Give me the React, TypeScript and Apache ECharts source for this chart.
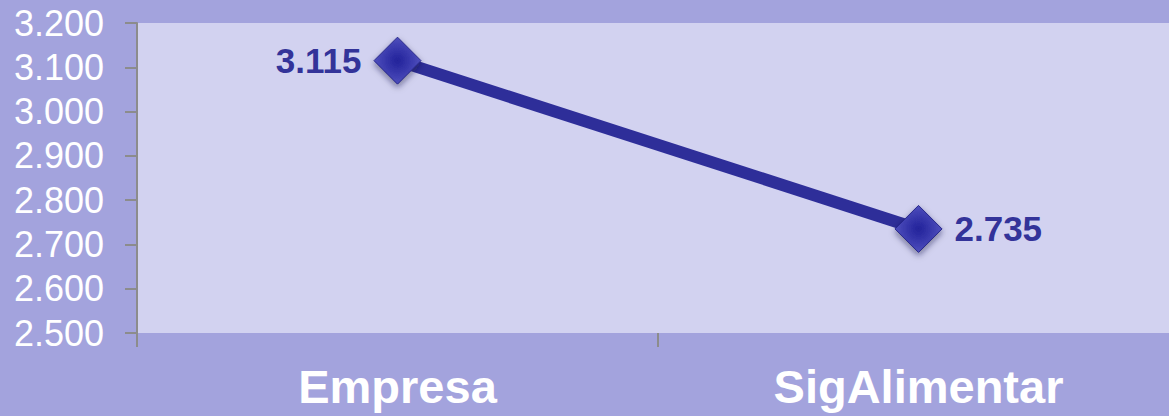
import React, { useEffect, useRef } from "react";
import * as echarts from "echarts";

const categories = ["Empresa", "SigAlimentar"];
const values = [3.115, 2.735];
const yMin = 2.5;
const yMax = 3.2;
const yStep = 0.1;

export default function App() {
  const ref = useRef<HTMLDivElement>(null);
  useEffect(() => {
    if (!ref.current) return;
    const chart = echarts.init(ref.current, undefined, { renderer: "svg" });
    chart.setOption({
      animation: false,
      backgroundColor: "#a3a3dd",
      textStyle: { fontFamily: "Liberation Sans, Arial, sans-serif" },
      grid: {
        left: 137,
        top: 23,
        right: 0,
        bottom: 83,
        show: true,
        backgroundColor: "#d2d2f0",
        borderWidth: 0,
        containLabel: false,
      },
      xAxis: {
        type: "category",
        data: categories,
        boundaryGap: true,
        axisLine: {
          lineStyle: {
            color: "#8c8c8c",
            width: 2,
            shadowColor: "rgba(40,40,100,0.6)",
            shadowBlur: 6,
            shadowOffsetY: 4,
          },
        },
        axisTick: { show: true, length: 14, lineStyle: { color: "#8c8c8c", width: 2 } },
        axisLabel: {
          color: "#ffffff",
          fontSize: 47,
          fontWeight: "bold",
          margin: 30,
          fontFamily: "Liberation Sans, Arial, sans-serif",
        },
      },
      yAxis: {
        type: "value",
        min: yMin,
        max: yMax,
        interval: yStep,
        axisLine: { show: true, lineStyle: { color: "#8c8c8c", width: 2 } },
        axisTick: { show: true, length: 12, lineStyle: { color: "#8c8c8c", width: 2 } },
        splitLine: { show: false },
        axisLabel: {
          color: "#ffffff",
          fontSize: 36,
          margin: 33,
          fontFamily: "Liberation Sans, Arial, sans-serif",
          formatter: (v: number) => v.toFixed(3),
        },
      },
      series: [
        {
          type: "line",
          data: [
            { value: values[0], label: { position: "left" } },
            { value: values[1], label: { position: "right" } },
          ],
          symbol: "diamond",
          symbolSize: 47,
          lineStyle: { color: "#2e2e99", width: 12 },
          itemStyle: {
            color: {
              type: "radial",
              x: 0.5,
              y: 0.5,
              r: 0.6,
              colorStops: [
                { offset: 0, color: "#24249a" },
                { offset: 0.25, color: "#2e2ea4" },
                { offset: 1, color: "#5858c4" },
              ],
            },
            borderColor: "#26268a",
            borderWidth: 1,
            shadowColor: "rgba(20,20,60,0.5)",
            shadowBlur: 6,
            shadowOffsetY: 3,
          },
          label: {
            show: true,
            color: "#333399",
            fontSize: 35,
            fontWeight: "bold",
            distance: 12,
            fontFamily: "Liberation Sans, Arial, sans-serif",
            formatter: (p: any) => Number(p.value).toFixed(3),
          },
          emphasis: { disabled: true },
        },
      ],
    });
    return () => chart.dispose();
  }, []);
  return (
    <div
      style={{
        position: "fixed",
        left: 0,
        top: 0,
        width: 1169,
        height: 416,
        overflow: "hidden",
      }}
    >
      <div ref={ref} style={{ width: 1179, height: 416 }} />
    </div>
  );
}
